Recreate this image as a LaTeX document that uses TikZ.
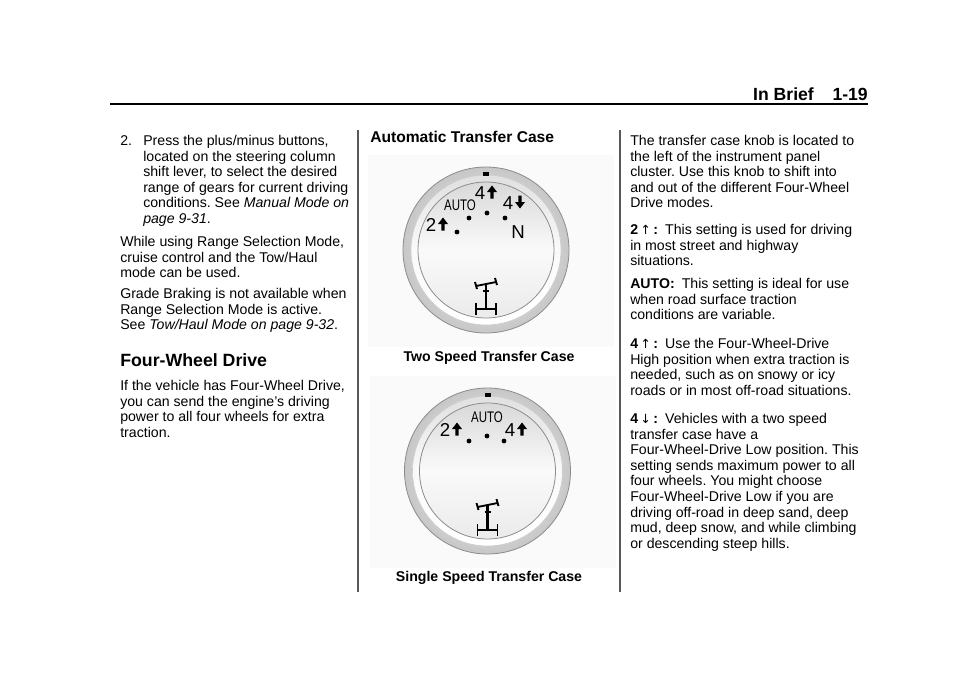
\documentclass[tikz,border=0pt]{standalone}
\usepackage{fontspec}
\setmainfont{Liberation Sans}
\newfontfamily\arrfont{DejaVu Sans}
\newfontfamily\condfont{Liberation Sans}[FakeStretch=0.75]
\frenchspacing
\begin{document}
\begin{tikzpicture}[x=0.75pt,y=-0.75pt,
  body/.style={anchor=north west,inner sep=0pt,align=left,font=\fontsize{10.6pt}{11.7pt}\selectfont},
  captxt/.style={inner sep=0pt,font=\fontsize{10.6pt}{12pt}\selectfont\bfseries},
  knoblbl/.style={inner sep=0pt,font=\fontsize{14pt}{14pt}\selectfont},
  dot/.style={circle,fill=black,inner sep=0pt,minimum size=3.6pt},
  divider/.style={line width=0.9pt,gray!70!black}]
\useasboundingbox (0,0) rectangle (960,672);
\fill[white] (0,0) rectangle (960,672);
\newcommand{\thinup}{{\arrfont\fontsize{9.5pt}{9pt}\selectfont ↑}}
\newcommand{\thindn}{{\arrfont\fontsize{9.5pt}{9pt}\selectfont ↓}}
% header
\node[anchor=east,inner sep=0pt,font=\fontsize{13.2pt}{14pt}\selectfont\bfseries] (hdr) at (868,94) {In Brief\hspace{14pt}1-19};
\draw[line width=2.2pt] (110,104) coordinate (r1) -- (868,104) coordinate (r2);
% dividers
\draw[divider] (358,130) coordinate (d1) -- (358,592) coordinate (d2);
\draw[divider] (620,130) coordinate (d3) -- (620,592) coordinate (d4);
% left column
\node[body] (n2) at (120,135) {2.};
\node[body] (p1) at (143,135) {Press the plus/minus buttons,\\located on the steering column\\shift lever, to select the desired\\range of gears for current driving\\conditions. See \textit{Manual Mode on}\\\textit{page 9-31}.};
\node[body] (p2) at (120,236) {While using Range Selection Mode,\\cruise control and the Tow/Haul\\mode can be used.};
\node[body] (p3) at (120,288) {Grade Braking is not available when\\Range Selection Mode is active.\\See \textit{Tow/Haul Mode on page 9-32}.};
\node[anchor=west,inner sep=0pt,font=\fontsize{13.3pt}{14pt}\selectfont\bfseries] (h1) at (120,360) {Four-Wheel Drive};
\node[body] (p4) at (120,380) {If the vehicle has Four-Wheel Drive,\\you can send the engine's driving\\power to all four wheels for extra\\traction.};
% middle column
\node[anchor=west,inner sep=0pt,font=\fontsize{11.7pt}{13pt}\selectfont\bfseries] (h2) at (370,137) {Automatic Transfer Case};
\node[captxt] (c1) at (489,358) {Two Speed Transfer Case};
\node[captxt] (c2) at (489,578) {Single Speed Transfer Case};
% knobs
\foreach \kx/\ky/\kn in {486/250/ka,487.5/471/kb}{
  \fill[black!2] (\kx-118,\ky-95) rectangle (\kx+128,\ky+97);
  \shade[inner color=white,outer color=black!22] (\kx,\ky) circle (83);
  \draw[black!45,line width=0.6pt] (\kx,\ky) circle (83);
  \shade[top color=black!12,bottom color=white,middle color=black!2] (\kx,\ky) circle (75);
  \draw[black!20,line width=0.5pt] (\kx,\ky) circle (75);
  \shade[top color=black!15,bottom color=black!8,middle color=black!2] (\kx,\ky) circle (68);
  \draw[black!45,line width=0.6pt] (\kx,\ky) circle (68);
  \node[coordinate] (\kn) at (\kx,\ky) {};
  \fill (\kx-3,\ky-78) rectangle (\kx+3,\ky-74);
  % 4wd icon
  \begin{scope}[shift={(\kx,\ky+50)},line width=1.4pt]
    \draw (-10,-14) -- (10,-18);
    \draw (-11,-18) -- (-9,-11); \draw (9,-22) -- (11,-15);
    \draw[line width=1.8pt] (0,-16) -- (0,10);
    \draw (-3,-9) -- (3,-9);
    \draw (-10,9) -- (10,9);
    \draw (-10,3) -- (-10,15); \draw (10,3) -- (10,15);
  \end{scope}
}
\newcommand{\bigup}[2]{\fill (#1-1.6,#2+6.5) -- (#1-1.6,#2) -- (#1-5,#2) -- (#1,#2-6.5) -- (#1+5,#2) -- (#1+1.6,#2) -- (#1+1.6,#2+6.5) -- cycle;}
\newcommand{\bigdn}[2]{\fill (#1-1.6,#2-6.5) -- (#1-1.6,#2) -- (#1-5,#2) -- (#1,#2+6.5) -- (#1+5,#2) -- (#1+1.6,#2) -- (#1+1.6,#2-6.5) -- cycle;}
% knob A labels
\node[knoblbl] (a4u) at (480,193) {4}; \bigup{492}{192}
\node[inner sep=0pt,font=\condfont\fontsize{11.5pt}{12pt}\selectfont] (aauto) at (460,205) {AUTO};
\node[knoblbl] (a4d) at (508,203) {4}; \bigdn{520}{202}
\node[knoblbl] (a2u) at (431,225) {2}; \bigup{443}{224}
\node[knoblbl] (an) at (518,232) {N};
\node[dot] (ad1) at (457,232) {}; \node[dot] (ad2) at (469,218) {};
\node[dot] (ad3) at (487,213) {}; \node[dot] (ad4) at (505,218) {};
% knob B labels
\node[inner sep=0pt,font=\condfont\fontsize{11.5pt}{12pt}\selectfont] (bauto) at (487,417) {AUTO};
\node[knoblbl] (b2u) at (445,430) {2}; \bigup{457}{429}
\node[knoblbl] (b4u) at (510,430) {4}; \bigup{522}{429}
\node[dot] (bd1) at (469,441) {}; \node[dot] (bd2) at (487,436) {}; \node[dot] (bd3) at (504,441) {};
% right column
\node[body] (q1) at (630,135) {The transfer case knob is located to\\the left of the instrument panel\\cluster. Use this knob to shift into\\and out of the different Four-Wheel\\Drive modes.};
\node[body] (q2) at (630,224) {\textbf{2}\,\thinup\,\textbf{:}\enspace This setting is used for driving\\in most street and highway\\situations.};
\node[body] (q3) at (630,278) {\textbf{AUTO:}\enspace This setting is ideal for use\\when road surface traction\\conditions are variable.};
\node[body] (q4) at (630,338) {\textbf{4}\,\thinup\,\textbf{:}\enspace Use the Four-Wheel-Drive\\High position when extra traction is\\needed, such as on snowy or icy\\roads or in most off-road situations.};
\node[body] (q5) at (630,413) {\textbf{4}\,\thindn\,\textbf{:}\enspace Vehicles with a two speed\\transfer case have a\\Four-Wheel-Drive Low position. This\\setting sends maximum power to all\\four wheels. You might choose\\Four-Wheel-Drive Low if you are\\driving off-road in deep sand, deep\\mud, deep snow, and while climbing\\or descending steep hills.};
\end{tikzpicture}
\end{document}
